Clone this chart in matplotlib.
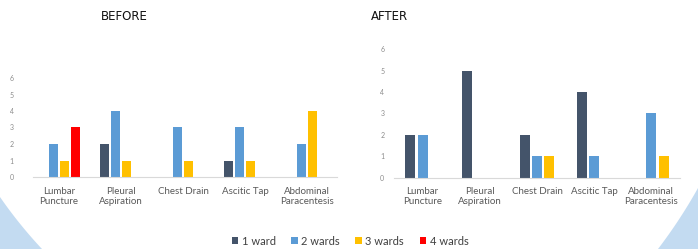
import numpy as np
import matplotlib
matplotlib.use("Agg")
import matplotlib.pyplot as plt
from matplotlib.patches import Polygon, Patch

# Datos
categorias = ["Lumbar\nPuncture", "Pleural\nAspiration", "Chest Drain",
              "Ascitic Tap", "Abdominal\nParacentesis"]
series = ["1 ward", "2 wards", "3 wards", "4 wards"]
colores = ["#44546A", "#5B9BD5", "#FFC000", "#FF0000"]

# BEFORE (0 = sin barra)
antes_1 = [0, 2, 0, 1, 0]
antes_2 = [2, 4, 3, 3, 2]
antes_3 = [1, 1, 1, 1, 4]
antes_4 = [3, 0, 0, 0, 0]

# AFTER
despues_1 = [2, 5, 2, 4, 0]
despues_2 = [2, 0, 1, 1, 3]
despues_3 = [0, 0, 1, 0, 1]

plt.rcParams['font.family'] = ['Lato', 'DejaVu Sans']

W, H = 698, 249
fig = plt.figure(figsize=(W / 100, H / 100), dpi=100)
fig.patch.set_facecolor("white")

# Fondo decorativo (esquinas azules de la diapositiva)
azul_fondo = "#C3DBF1"
def esquina(p0, p1, cy, esquina_px):
    # circulo con centro en altura cy que pasa por p0 y p1
    cx = ((p1[0]**2 + (p1[1] - cy)**2) - (p0[0]**2 + (p0[1] - cy)**2)) / (2 * (p1[0] - p0[0]))
    r = np.hypot(p0[0] - cx, p0[1] - cy)
    t0 = np.arctan2(p0[1] - cy, p0[0] - cx)
    t1 = np.arctan2(p1[1] - cy, p1[0] - cx)
    extra = 0.08 * np.sign(t1 - t0)
    t = np.linspace(t0 - extra, t1 + extra, 100)
    xs = cx + r * np.cos(t)
    ys = cy + r * np.sin(t)
    pts = [(x / W, 1 - y / H) for x, y in zip(xs, ys)]
    pts.append((esquina_px[0] / W, 1 - esquina_px[1] / H))
    fig.patches.append(Polygon(pts, closed=True, transform=fig.transFigure,
                               facecolor=azul_fondo, edgecolor="none", zorder=0))

esquina((0, 197), (42, 249), -60, (-40, 320))
esquina((658, 249), (698, 188), -60, (740, 320))

def estilo(ax, pad_y):
    for s in ["top", "right", "left"]:
        ax.spines[s].set_visible(False)
    ax.spines["bottom"].set_color("#D9D9D9")
    ax.spines["bottom"].set_linewidth(0.8)
    ax.set_facecolor("none")
    ax.tick_params(axis="y", length=0, labelsize=5, labelcolor="#8C8C8C", pad=pad_y)
    ax.tick_params(axis="x", length=0, labelsize=7, labelcolor="#595959", pad=7)
    ax.set_yticks(range(0, 7))
    ax.set_xticks(np.arange(len(categorias)))
    ax.set_xticklabels(categorias, linespacing=1.15)

x = np.arange(len(categorias))

# Gráfica BEFORE
ax1 = fig.add_axes([33 / W, 1 - 177 / H, 304 / W, 6.5 * 16.5 / H])
paso, ancho = 0.177, 0.145
for k, vals in enumerate([antes_1, antes_2, antes_3, antes_4]):
    ax1.bar(x + (k - 1.5) * paso, vals, ancho, color=colores[k], zorder=2)
ax1.set_xlim(-0.42, 4.48)
ax1.set_ylim(0, 6.5)
estilo(ax1, 14)

# Gráfica AFTER
ax2 = fig.add_axes([394 / W, 1 - 177.7 / H, 286 / W, 6.2 * 21.4 / H])
paso, ancho = 0.218, 0.175
for k, vals in enumerate([despues_1, despues_2, despues_3]):
    ax2.bar(x + (k - 1) * paso, vals, ancho, color=colores[k], zorder=2)
ax2.set_xlim(-0.5, 4.5)
ax2.set_ylim(0, 6.2)
estilo(ax2, 7)

# Títulos
fig.text(124 / W, 1 - 17 / H, "BEFORE", ha="center", va="center", fontsize=8.5,
         family=['Liberation Sans Narrow', 'DejaVu Sans'], color="#111111")
fig.text(389 / W, 1 - 17 / H, "AFTER", ha="center", va="center", fontsize=8.5,
         family=['Liberation Sans Narrow', 'DejaVu Sans'], color="#111111")

# Leyenda
manejadores = [Patch(facecolor=c, edgecolor="none") for c in colores]
fig.legend(manejadores, series, loc="center", bbox_to_anchor=(350 / W, 1 - 241 / H),
           ncol=4, frameon=False, fontsize=8, labelcolor="#404040",
           handlelength=0.6, handleheight=0.6, handletextpad=0.3,
           columnspacing=1.4)

fig.savefig("out.png", dpi=100)
